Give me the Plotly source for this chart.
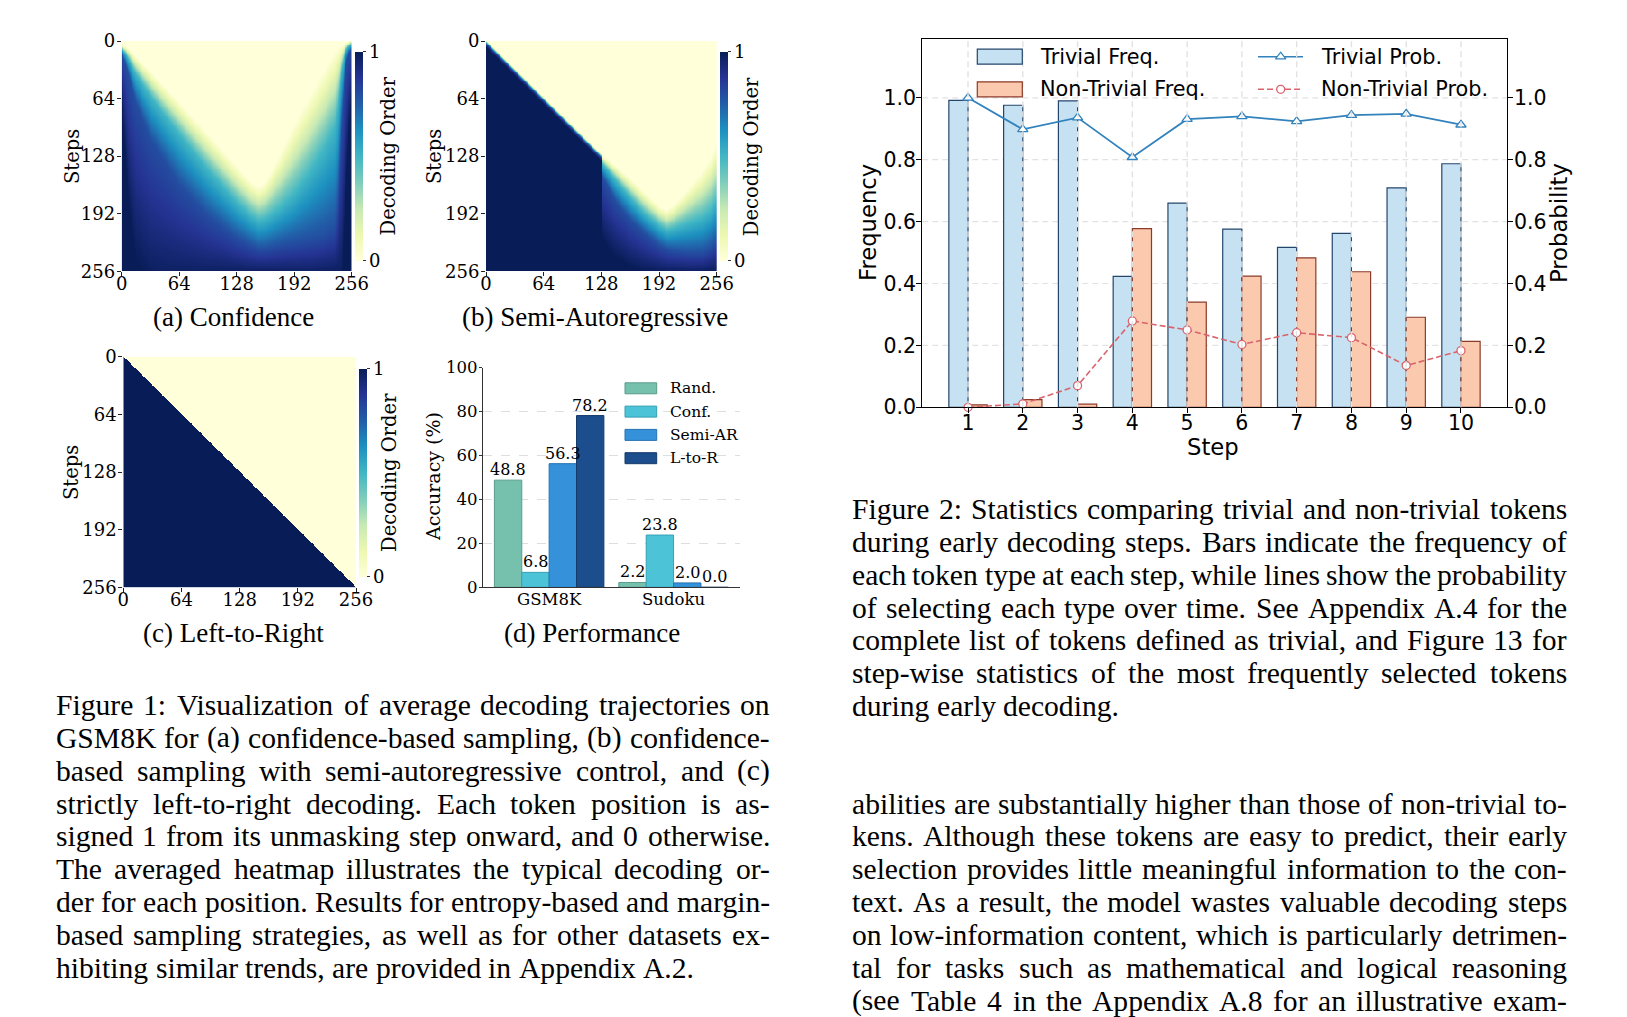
import numpy as np
import plotly.graph_objects as go

W, H = 1627, 1017

# ===================== data =====================
HEAT_TICKS = [0, 64, 128, 192, 256]
N_TOK = 256

# (a) Confidence heatmap: for anchor token positions, the decoding step at which
# the averaged decoding order reaches 0.1 / 0.5 / 0.8 / 0.95
CONF_POS = [0, 4, 8, 16, 32, 48, 64, 80, 96, 112, 128, 144, 152, 160, 176, 192, 208, 224, 236, 240, 244, 248, 252, 255]
CONF_S10 = [6, 8, 12, 22, 40, 58, 76, 94, 112, 130, 148, 165, 170, 165, 138, 108, 80, 52, 30, 22, 12, 5, 2, 0]
CONF_S50 = [10, 14, 22, 38, 62, 84, 104, 124, 144, 162, 180, 195, 200, 198, 186, 170, 148, 122, 98, 78, 35, 12, 6, 4]
CONF_S80 = [16, 25, 40, 70, 110, 135, 160, 178, 195, 208, 220, 228, 232, 232, 228, 225, 222, 218, 210, 190, 100, 30, 14, 10]
CONF_S95 = [60, 100, 150, 200, 230, 238, 242, 245, 247, 248, 250, 252, 252, 252, 252, 252, 252, 250, 248, 245, 230, 150, 80, 50]

# (b) Semi-autoregressive heatmap (same encoding)
SEMI_POS = [0, 127, 128, 136, 144, 160, 176, 192, 200, 208, 224, 240, 250, 255]
SEMI_S10 = [0, 126, 129, 136, 143, 158, 174, 189, 193, 188, 172, 155, 140, 128]
SEMI_S50 = [2, 128, 136, 146, 156, 175, 193, 206, 211, 209, 203, 197, 188, 178]
SEMI_S80 = [3.5, 129.5, 150, 165, 180, 200, 215, 228, 232, 234, 236, 236, 230, 225]
SEMI_S95 = [6, 132, 200, 215, 225, 238, 246, 250, 252, 252, 253, 253, 250, 250]

# (c) Left-to-right: position p is unmasked at step p
LTR_UNMASK_STEP = list(range(N_TOK))

# (d) Performance
PERF_METHODS = ["Rand.", "Conf.", "Semi-AR", "L-to-R"]
PERF_DATASETS = ["GSM8K", "Sudoku"]
PERF_GSM8K = [48.8, 6.8, 56.3, 78.2]
PERF_SUDOKU = [2.2, 23.8, 2.0, 0.0]
PERF_YTICKS = [0, 20, 40, 60, 80, 100]

# Figure 2
STEPS = [1, 2, 3, 4, 5, 6, 7, 8, 9, 10]
TRIV_FREQ = [0.992, 0.976, 0.990, 0.423, 0.660, 0.576, 0.517, 0.562, 0.709, 0.787]
NONTRIV_FREQ = [0.008, 0.025, 0.010, 0.577, 0.340, 0.424, 0.483, 0.438, 0.291, 0.213]
TRIV_PROB = [1.000, 0.898, 0.936, 0.808, 0.931, 0.940, 0.924, 0.944, 0.948, 0.913]
NONTRIV_PROB = [0.000, 0.011, 0.070, 0.279, 0.250, 0.203, 0.241, 0.225, 0.135, 0.183]
FREQ_YTICKS = [0.0, 0.2, 0.4, 0.6, 0.8, 1.0]

FIG1_CAPTION = [
    "Figure 1: Visualization of average decoding trajectories on",
    "GSM8K for (a) confidence-based sampling, (b) confidence-",
    "based sampling with semi-autoregressive control, and (c)",
    "strictly left-to-right decoding. Each token position is as-",
    "signed 1 from its unmasking step onward, and 0 otherwise.",
    "The averaged heatmap illustrates the typical decoding or-",
    "der for each position. Results for entropy-based and margin-",
    "based sampling strategies, as well as for other datasets ex-",
    "hibiting similar trends, are provided in Appendix A.2.",
]
FIG2_CAPTION = [
    "Figure 2: Statistics comparing trivial and non-trivial tokens",
    "during early decoding steps. Bars indicate the frequency of",
    "each token type at each step, while lines show the probability",
    "of selecting each type over time. See Appendix A.4 for the",
    "complete list of tokens defined as trivial, and Figure 13 for",
    "step-wise statistics of the most frequently selected tokens",
    "during early decoding.",
]
BODY_TEXT = [
    "abilities are substantially higher than those of non-trivial to-",
    "kens. Although these tokens are easy to predict, their early",
    "selection provides little meaningful information to the con-",
    "text. As a result, the model wastes valuable decoding steps",
    "on low-information content, which is particularly detrimen-",
    "tal for tasks such as mathematical and logical reasoning",
    "(see Table 4 in the Appendix A.8 for an illustrative exam-",
]
SUBCAPTIONS = ["(a) Confidence", "(b) Semi-Autoregressive", "(c) Left-to-Right", "(d) Performance"]

# ===================== styles =====================
YLGNBU = [[0.0, "#ffffd9"], [0.125, "#edf8b1"], [0.25, "#c7e9b4"], [0.375, "#7fcdbb"],
          [0.5, "#41b6c4"], [0.625, "#1d91c0"], [0.75, "#225ea8"], [0.875, "#253494"], [1.0, "#081d58"]]
MPL_SERIF = "DejaVu Serif"
MPL_SANS = "DejaVu Sans"
TEX = "Liberation Serif"
PERF_COLORS = ["#76c1ad", "#4dc3d8", "#3591d9", "#1c4d8c"]
PERF_EDGES = ["#5a9c8b", "#36a0b5", "#2672b4", "#143a6a"]
TRIV_FILL, TRIV_EDGE = "#c6e2f2", "#24466c"
NON_FILL, NON_EDGE = "#fbc9ad", "#8c3b2a"
TRIV_LINE, NON_LINE = "#3282bd", "#d9636c"
GRID2 = "#e2e2e2"

TIMES_W = {' ': 250, '!': 333, '"': 408, '%': 833, '&': 778, "'": 333, '(': 333, ')': 333, ',': 250,
           '-': 333, '.': 250, '/': 278, ':': 278, ';': 278, '?': 444,
           'A': 722, 'B': 667, 'C': 667, 'D': 722, 'E': 611, 'F': 556, 'G': 722, 'H': 722, 'I': 333,
           'J': 389, 'K': 722, 'L': 611, 'M': 889, 'N': 722, 'O': 722, 'P': 556, 'Q': 722, 'R': 667,
           'S': 556, 'T': 611, 'U': 722, 'V': 722, 'W': 944, 'X': 722, 'Y': 722, 'Z': 611,
           'a': 444, 'b': 500, 'c': 444, 'd': 500, 'e': 444, 'f': 333, 'g': 500, 'h': 500, 'i': 278,
           'j': 278, 'k': 500, 'l': 278, 'm': 778, 'n': 500, 'o': 500, 'p': 500, 'q': 500, 'r': 333,
           's': 389, 't': 278, 'u': 500, 'v': 500, 'w': 722, 'x': 500, 'y': 500, 'z': 444}
for _d in "0123456789":
    TIMES_W[_d] = 500

# ===================== helpers =====================
def dx(x0, x1):
    return [x0 / W, x1 / W]


def dy(y0, y1):  # y0 = top pixel, y1 = bottom pixel
    return [1 - y1 / H, 1 - y0 / H]


annotations = []
shapes = []


def add_text(x, y, text, size, family, anchor="center", angle=0, color="black"):
    annotations.append(dict(x=x / W, y=1 - y / H, xref="paper", yref="paper", text=text,
                            showarrow=False, textangle=angle, xanchor=anchor, yanchor="middle",
                            borderpad=0, borderwidth=0,
                            font=dict(family=family, size=size, color=color)))


FS = 29.6
LINE_H = 32.85


def word_w(w):
    return sum(TIMES_W.get(c, 500) for c in w) / 1000.0 * FS


def add_paragraph(lines, left, right, base0, justify_last):
    for i, line in enumerate(lines):
        words = line.split(" ")
        widths = [word_w(w) for w in words]
        yc = base0 + i * LINE_H - 0.3375 * FS
        justify = len(words) > 1 and (i < len(lines) - 1 or justify_last)
        gap = (right - left - sum(widths)) / (len(words) - 1) if justify else 0.25 * FS
        x = left
        for k, (w, wd) in enumerate(zip(words, widths)):
            if k == 0:
                add_text(x, yc, w, FS, TEX, anchor="left")
            elif justify and k == len(words) - 1:
                add_text(right, yc, w, FS, TEX, anchor="right")
            else:
                add_text(x + wd / 2, yc, w, FS, TEX, anchor="center")
            x += wd + gap


def decode_grid(pos, s10, s50, s80, s95):
    cols = np.arange(N_TOK)
    a10 = np.interp(cols, pos, s10)
    a50 = np.interp(cols, pos, s50)
    a80 = np.interp(cols, pos, s80)
    a95 = np.interp(cols, pos, s95)
    steps = np.arange(N_TOK) + 0.5
    z = np.zeros((N_TOK, N_TOK))
    for j in cols:
        lo = a10[j] - (a50[j] - a10[j]) / 4.0 - 0.5
        hi = a95[j] + (a95[j] - a80[j]) / 3.0 + 0.5
        z[:, j] = np.interp(steps, [lo, a10[j], a50[j], a80[j], a95[j], hi],
                            [0.0, 0.1, 0.5, 0.8, 0.95, 1.0])
    return np.round(z, 3)


def colorbar(xl, top, bottom):
    return dict(x=xl / W, xanchor="left", y=1 - (top + bottom) / 2 / H, yanchor="middle",
                len=bottom - top, lenmode="pixels", thickness=8, thicknessmode="pixels",
                outlinewidth=0, tickvals=[0, 1], ticktext=["0", "1"], ticks="outside",
                ticklen=3, tickwidth=1, tickcolor="#333",
                tickfont=dict(family=MPL_SERIF, size=18, color="black"), xpad=0, ypad=0)


# ===================== figure =====================
fig = go.Figure()
layout_axes = {}

heat_geom = [(121.7, 351.7, 41.0, 271.3), (486.0, 716.7, 41.0, 271.3), (123.3, 356.0, 356.7, 587.3)]
cb_geom = [(355.3, 51.7, 260.7), (720.0, 51.7, 260.7), (359.3, 369.0, 576.7)]

z_a = decode_grid(CONF_POS, CONF_S10, CONF_S50, CONF_S80, CONF_S95)
z_b = decode_grid(SEMI_POS, SEMI_S10, SEMI_S50, SEMI_S80, SEMI_S95)
step_idx = np.arange(N_TOK)
z_c = (step_idx[:, None] >= np.array(LTR_UNMASK_STEP)[None, :]).astype(float)
centers = np.arange(N_TOK) + 0.5

for n, (z, g, cbg) in enumerate(zip([z_a, z_b, z_c], heat_geom, cb_geom), start=1):
    sx = "" if n == 1 else str(n)
    fig.add_trace(go.Heatmap(z=z, x=centers, y=centers, colorscale=YLGNBU, zmin=0, zmax=1,
                             xaxis="x" + sx, yaxis="y" + sx, hoverinfo="skip",
                             colorbar=colorbar(*cbg)))
    x0, x1, y0, y1 = g
    common = dict(tickvals=HEAT_TICKS, ticks="outside", ticklen=4, tickwidth=1, tickcolor="#222",
                  tickfont=dict(family=MPL_SERIF, size=18, color="black"), showgrid=False,
                  zeroline=False, showline=False)
    layout_axes["xaxis" + sx] = dict(domain=dx(x0, x1), range=[0, 256], anchor="y" + sx,
                                     ticklabelstandoff=-8, **common)
    layout_axes["yaxis" + sx] = dict(domain=dy(y0, y1), range=[256, 0], anchor="x" + sx,
                                     ticklabelstandoff=-2, **common)

# heatmap labels
for (xs, ys) in [(72, 157), (434, 157), (72, 473)]:
    add_text(xs, ys, "Steps", 19.5, MPL_SERIF, angle=-90)
for (xs, ys) in [(388, 156.5), (751.7, 156.5), (390, 473)]:
    add_text(xs, ys, "Decoding Order", 19.5, MPL_SERIF, angle=-90)

# ---- (d) performance bars ----
BAR_W = 0.22
for i, m in enumerate(PERF_METHODS):
    vals = [PERF_GSM8K[i], PERF_SUDOKU[i]]
    off = -2 * BAR_W + BAR_W * i
    fig.add_trace(go.Bar(x=[0, 1], y=vals, width=BAR_W, offset=off,
                         marker=dict(color=PERF_COLORS[i], line=dict(color=PERF_EDGES[i], width=1)),
                         name=m, showlegend=False, xaxis="x4", yaxis="y4", hoverinfo="skip"))
    for gx, v in zip([0, 1], vals):
        annotations.append(dict(x=gx + off + BAR_W / 2, y=v, xref="x4", yref="y4", text=f"{v:.1f}",
                                showarrow=False, xanchor="center", yanchor="bottom", yshift=1,
                                borderpad=0, borderwidth=0,
                                font=dict(family=MPL_SERIF, size=16, color="black")))
layout_axes["xaxis4"] = dict(domain=dx(482.7, 740.0), range=[-0.534, 1.534], anchor="y4",
                             tickvals=[0, 1], ticktext=PERF_DATASETS, ticks="",
                             ticklabelstandoff=-3,
                             tickfont=dict(family=MPL_SERIF, size=16.5, color="black"),
                             showline=True, linecolor="#333", linewidth=1, showgrid=False, zeroline=False)
layout_axes["yaxis4"] = dict(domain=dy(367.7, 587.3), range=[0, 100], anchor="x4",
                             tickvals=PERF_YTICKS, ticks="outside", ticklen=3, tickcolor="#333",
                             ticklabelstandoff=-2,
                             tickfont=dict(family=MPL_SERIF, size=16.5, color="black"),
                             showline=True, linecolor="#333", linewidth=1, showgrid=True,
                             gridcolor="#dedede", griddash="dash", gridwidth=1, zeroline=False)
add_text(433, 477, "Accuracy (%)", 19, MPL_SERIF, angle=-90)
for i, m in enumerate(PERF_METHODS):
    yc = 388.3 + 23.3 * i
    shapes.append(dict(type="rect", xref="paper", yref="paper", x0=625 / W, x1=656.7 / W,
                       y0=1 - (yc + 5.5) / H, y1=1 - (yc - 5.5) / H, fillcolor=PERF_COLORS[i],
                       line=dict(color=PERF_EDGES[i], width=1)))
    add_text(670, yc, m, 15.5, MPL_SERIF, anchor="left")

# ---- Figure 2 ----
fig.add_trace(go.Bar(x=STEPS, y=TRIV_FREQ, width=0.35, offset=-0.35,
                     marker=dict(color=TRIV_FILL, line=dict(color=TRIV_EDGE, width=1.2)),
                     xaxis="x5", yaxis="y5", showlegend=False, hoverinfo="skip"))
fig.add_trace(go.Bar(x=STEPS, y=NONTRIV_FREQ, width=0.35, offset=0.0,
                     marker=dict(color=NON_FILL, line=dict(color=NON_EDGE, width=1.2)),
                     xaxis="x5", yaxis="y5", showlegend=False, hoverinfo="skip"))
fig.add_trace(go.Scatter(x=STEPS, y=TRIV_PROB, mode="lines+markers",
                         line=dict(color=TRIV_LINE, width=1.8),
                         marker=dict(symbol="triangle-up", size=9, color="white",
                                     line=dict(color=TRIV_LINE, width=1.3)),
                         xaxis="x5", yaxis="y6", cliponaxis=False, showlegend=False, hoverinfo="skip"))
fig.add_trace(go.Scatter(x=STEPS, y=NONTRIV_PROB, mode="lines+markers",
                         line=dict(color=NON_LINE, width=1.6, dash="6px,3px"),
                         marker=dict(symbol="circle", size=8, color="white",
                                     line=dict(color=NON_LINE, width=1.3)),
                         xaxis="x5", yaxis="y6", cliponaxis=False, showlegend=False, hoverinfo="skip"))
tick_f2 = dict(family=MPL_SANS, size=20.5, color="black")
layout_axes["xaxis5"] = dict(domain=dx(922.3, 1506.7), range=[0.165, 10.835], anchor="y5",
                             tickvals=STEPS, ticks="outside", ticklen=5, tickcolor="black",
                             ticklabelstandoff=-8,
                             tickfont=tick_f2, showline=True, mirror=True, linecolor="black",
                             linewidth=1.2, showgrid=False, zeroline=False)
layout_axes["yaxis5"] = dict(domain=dy(39.0, 407.3), range=[0, 1.19], anchor="x5",
                             tickvals=FREQ_YTICKS, tickformat=".1f", ticks="outside", ticklen=5,
                             ticklabelstandoff=-4,
                             tickcolor="black", tickfont=tick_f2, showline=True, mirror=True,
                             linecolor="black", linewidth=1.2, showgrid=False, zeroline=False)
layout_axes["yaxis6"] = dict(overlaying="y5", side="right", anchor="x5", range=[0, 1.19],
                             tickvals=FREQ_YTICKS, tickformat=".1f", ticks="outside", ticklen=5,
                             ticklabelstandoff=-3,
                             tickcolor="black", tickfont=tick_f2, showline=True,
                             linecolor="black", linewidth=1.2, showgrid=False, zeroline=False)
# dashed grid (vertical lines drawn above the bars, as in the reference)
for s in STEPS:
    shapes.append(dict(type="line", xref="x5", yref="y5 domain", x0=s, x1=s, y0=0, y1=1,
                       line=dict(color=GRID2, width=1.4, dash="6px,4px"), layer="above"))
for t in FREQ_YTICKS[1:]:
    shapes.append(dict(type="line", xref="x5 domain", yref="y5", x0=0, x1=1, y0=t, y1=t,
                       line=dict(color=GRID2, width=1.2, dash="6px,4px"), layer="below"))
add_text(868, 223, "Frequency", 22.7, MPL_SANS, angle=-90)
add_text(1559, 223, "Probability", 22.7, MPL_SANS, angle=-90)
add_text(1213, 446.7, "Step", 22.7, MPL_SANS)

# figure-2 legend (drawn in pixel space)
leg_rows = [56.7, 89.3]
for yc, fill, edge, lab in zip(leg_rows, [TRIV_FILL, NON_FILL], [TRIV_EDGE, NON_EDGE],
                               ["Trivial Freq.", "Non-Trivial Freq."]):
    shapes.append(dict(type="rect", xref="paper", yref="paper", x0=977.3 / W, x1=1022.3 / W,
                       y0=1 - (yc + 7.5) / H, y1=1 - (yc - 7.5) / H, fillcolor=fill,
                       line=dict(color=edge, width=1.2)))
    add_text(1040, yc, lab, 20.8, MPL_SANS, anchor="left")
layout_axes["xaxis7"] = dict(domain=[0, 1], range=[0, W], visible=False, anchor="y7")
layout_axes["yaxis7"] = dict(domain=[0, 1], range=[H, 0], visible=False, anchor="x7")
for yc, col, dash, sym, size, lab in [(leg_rows[0], TRIV_LINE, "solid", "triangle-up", 9, "Trivial Prob."),
                                      (leg_rows[1], NON_LINE, "6px,3px", "circle", 8, "Non-Trivial Prob.")]:
    fig.add_trace(go.Scatter(x=[1258, 1303], y=[yc, yc], mode="lines",
                             line=dict(color=col, width=1.6, dash=dash),
                             xaxis="x7", yaxis="y7", showlegend=False, hoverinfo="skip"))
    fig.add_trace(go.Scatter(x=[1280.7], y=[yc], mode="markers",
                             marker=dict(symbol=sym, size=size, color="white", line=dict(color=col, width=1.3)),
                             xaxis="x7", yaxis="y7", showlegend=False, hoverinfo="skip"))
    add_text(1320.7, yc, lab, 20.8, MPL_SANS, anchor="left")

# ---- subcaptions ----
SUB_FS = 27
for txt, (xc, base) in zip(SUBCAPTIONS, [(233, 326.5), (595, 326.5), (233.5, 642.5), (591.5, 642.5)]):
    add_text(xc, base - 0.3375 * SUB_FS, txt, SUB_FS, TEX)

# ---- captions and body text ----
add_paragraph(FIG1_CAPTION, 56.0, 770.0, 715.0, False)
add_paragraph(FIG2_CAPTION, 852.0, 1567.0, 519.0, False)
add_paragraph(BODY_TEXT, 852.0, 1567.0, 813.5, True)

fig.update_layout(width=W, height=H, autosize=False,
                  margin=dict(l=0, r=0, t=0, b=0, pad=0, autoexpand=False),
                  paper_bgcolor="white", plot_bgcolor="rgba(0,0,0,0)",
                  barmode="overlay", showlegend=False,
                  annotations=annotations, shapes=shapes, **layout_axes)

fig.write_html("out.html", config={"displayModeBar": False},
               post_script="document.body.style.margin='0px';")
